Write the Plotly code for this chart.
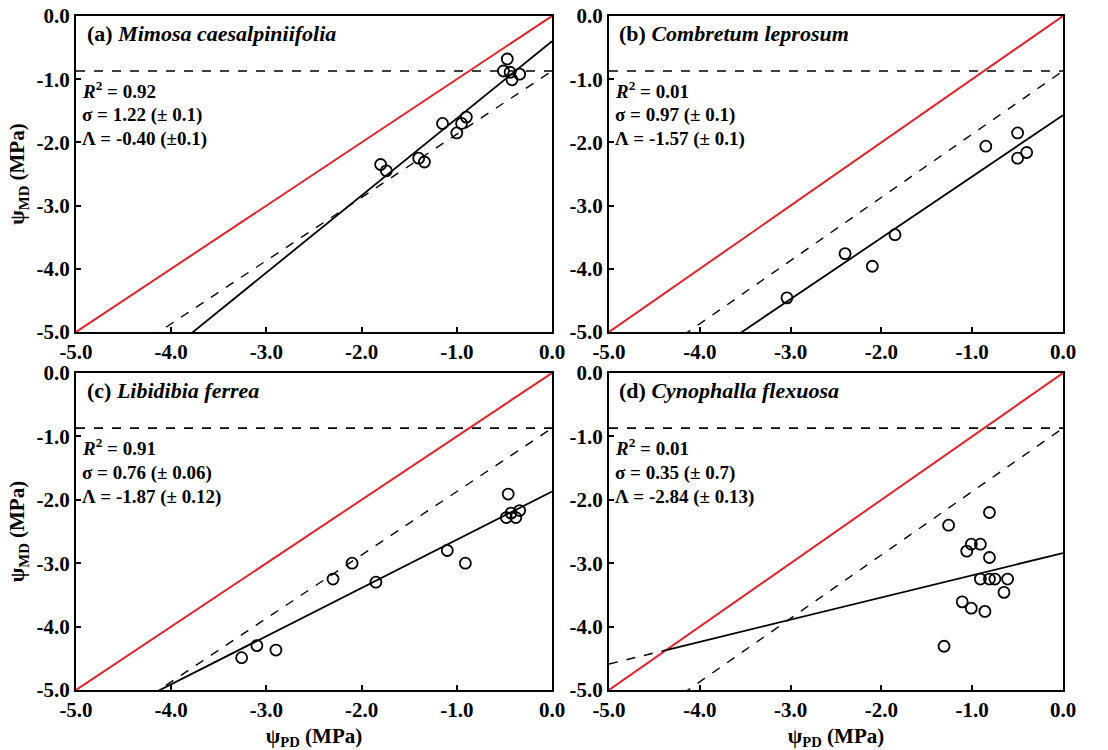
import plotly.graph_objects as go

# ---------------- data ----------------
panel_labels = ["(a)", "(b)", "(c)", "(d)"]
species = ["Mimosa caesalpiniifolia", "Combretum leprosum", "Libidibia ferrea", "Cynophalla flexuosa"]

a_x = [-0.47, -0.51, -0.44, -0.42, -0.34, -1.15, -0.95, -0.90, -1.00, -1.80, -1.74, -1.40, -1.34]
a_y = [-0.68, -0.87, -0.89, -1.01, -0.92, -1.70, -1.70, -1.60, -1.85, -2.35, -2.45, -2.25, -2.31]

b_x = [-0.50, -0.50, -0.40, -0.85, -1.85, -2.40, -2.10, -3.04]
b_y = [-1.85, -2.25, -2.16, -2.06, -3.46, -3.76, -3.96, -4.46]

c_x = [-0.46, -0.48, -0.43, -0.38, -0.34, -1.10, -0.91, -2.10, -2.30, -1.85, -3.10, -3.26, -2.90]
c_y = [-1.91, -2.28, -2.21, -2.28, -2.17, -2.80, -3.00, -3.00, -3.25, -3.30, -4.30, -4.49, -4.37]

d_x = [-0.81, -1.26, -1.06, -1.01, -0.91, -0.81, -0.91, -0.81, -0.75, -0.61, -0.65, -1.11, -1.01, -0.86, -1.31]
d_y = [-2.20, -2.40, -2.81, -2.70, -2.70, -2.91, -3.25, -3.25, -3.25, -3.25, -3.46, -3.61, -3.71, -3.76, -4.31]

r2 = ["0.92", "0.01", "0.91", "0.01"]
sigma = [1.22, 0.97, 0.76, 0.35]
sigma_err = ["(± 0.1)", "(± 0.1)", "(± 0.06)", "(± 0.7)"]
Lam = [-0.40, -1.57, -1.87, -2.84]
lam_err = ["(±0.1)", "(± 0.1)", "(± 0.12)", "(± 0.13)"]

threshold = -0.87      # horizontal dashed line and intercept of dashed reference line
ref_slope = 1.0

tick_vals = [-5, -4, -3, -2, -1, 0]
tick_text = ["-5.0", "-4.0", "-3.0", "-2.0", "-1.0", "0.0"]

xs = [a_x, b_x, c_x, d_x]
ys = [a_y, b_y, c_y, d_y]

# ---------------- layout geometry ----------------
W, H = 1108, 750
x_dom = [(76 / W, 552 / W), (609 / W, 1063 / W)]
y_dom = [(1 - 332 / H, 1 - 16 / H), (1 - 690 / H, 1 - 373 / H)]

FONT = "Liberation Serif"
RED = "#e0242a"

fig = go.Figure()
layout = dict(
    width=W, height=H,
    margin=dict(l=0, r=0, t=0, b=0),
    paper_bgcolor="white", plot_bgcolor="white",
    showlegend=False,
    font=dict(family=FONT, color="black"),
)

annotations = []
for i in range(4):
    row, col = divmod(i, 2)
    n = i + 1
    xa = "x" if n == 1 else f"x{n}"
    ya = "y" if n == 1 else f"y{n}"
    xkey = "xaxis" if n == 1 else f"xaxis{n}"
    ykey = "yaxis" if n == 1 else f"yaxis{n}"

    axis_common = dict(
        range=[-5, 0], tickvals=tick_vals, ticktext=tick_text,
        showline=True, mirror=True, linecolor="black", linewidth=2,
        ticks="inside", ticklen=5, tickwidth=1.5, tickcolor="black",
        showgrid=False, zeroline=False, automargin=False,
        tickfont=dict(family=FONT, size=21, color="black", weight="bold"),
    )
    xaxis = dict(axis_common, domain=x_dom[col], anchor=ya)
    yaxis = dict(axis_common, domain=y_dom[row], anchor=xa)
    if row == 1:
        xaxis["title"] = dict(text="<b>ψ<sub>PD</sub> (MPa)</b>",
                              font=dict(family=FONT, size=21), standoff=10)
    if col == 0:
        yaxis["title"] = dict(text="<b>ψ<sub>MD</sub> (MPa)</b>",
                              font=dict(family=FONT, size=21), standoff=6)
    layout[xkey] = xaxis
    layout[ykey] = yaxis

    # 1:1 red line
    fig.add_trace(go.Scatter(x=[-5, 0], y=[-5, 0], mode="lines",
                             line=dict(color=RED, width=2), xaxis=xa, yaxis=ya))
    # horizontal dashed threshold line
    fig.add_trace(go.Scatter(x=[-5, 0], y=[threshold, threshold], mode="lines",
                             line=dict(color="black", width=1.6, dash="dash"),
                             xaxis=xa, yaxis=ya))
    # dashed reference line (slope 1, intercept threshold)
    fig.add_trace(go.Scatter(x=[-5, 0], y=[ref_slope * -5 + threshold, threshold], mode="lines",
                             line=dict(color="black", width=1.4, dash="dash"),
                             xaxis=xa, yaxis=ya))
    # fitted line
    s, L = sigma[i], Lam[i]
    if i == 3:
        x_cross = L / (1 - s)   # crossing with 1:1 line
        fig.add_trace(go.Scatter(x=[-5, x_cross], y=[s * -5 + L, s * x_cross + L], mode="lines",
                                 line=dict(color="black", width=1.5, dash="dash"),
                                 xaxis=xa, yaxis=ya))
        fig.add_trace(go.Scatter(x=[x_cross, 0], y=[s * x_cross + L, L], mode="lines",
                                 line=dict(color="black", width=1.8),
                                 xaxis=xa, yaxis=ya))
    else:
        fig.add_trace(go.Scatter(x=[-5, 0], y=[s * -5 + L, L], mode="lines",
                                 line=dict(color="black", width=1.8),
                                 xaxis=xa, yaxis=ya))
    # data points
    fig.add_trace(go.Scatter(x=xs[i], y=ys[i], mode="markers",
                             marker=dict(symbol="circle-open", size=11, color="black",
                                         line=dict(width=1.8, color="black")),
                             xaxis=xa, yaxis=ya))

    # annotations
    dx = f"{xa} domain"
    dy = f"{ya} domain"
    annotations.append(dict(
        text=f"<b>{panel_labels[i]} <i>{species[i]}</i></b>",
        xref=dx, yref=dy, x=0.018, y=0.946, xanchor="left", yanchor="middle",
        showarrow=False, font=dict(family=FONT, size=22, color="black")))
    stats = [
        f"<b><i>R</i><sup>2</sup> = {r2[i]}</b>",
        f"<b>σ = {sigma[i]:.2f} {sigma_err[i]}</b>",
        f"<b>Λ = {Lam[i]:.2f} {lam_err[i]}</b>",
    ]
    for k, (t, yy) in enumerate(zip(stats, [0.766, 0.686, 0.610])):
        annotations.append(dict(
            text=t, xref=dx, yref=dy, x=0.008, y=yy, xanchor="left", yanchor="middle",
            showarrow=False, font=dict(family=FONT, size=19, color="black")))

layout["annotations"] = annotations
fig.update_layout(**layout)
fig.write_html("out.html")
